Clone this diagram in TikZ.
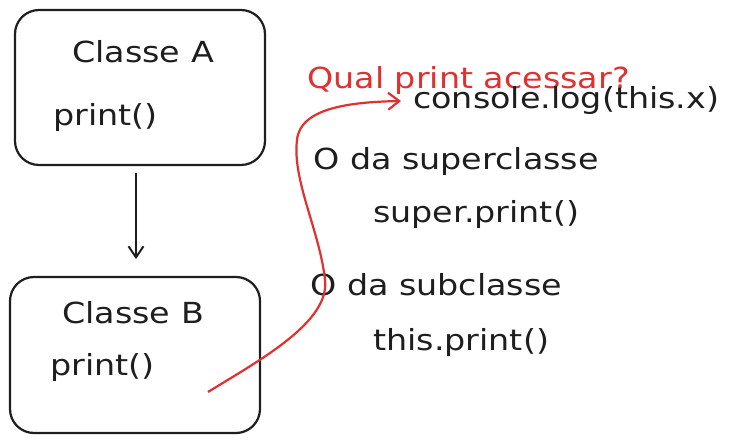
\documentclass[tikz,border=0pt]{standalone}
\usepackage{fontspec}
\setmainfont{DejaVu Sans}[FakeStretch=1.15]
\usetikzlibrary{positioning}
\usetikzlibrary{arrows.meta}

\definecolor{penred}{HTML}{E03131}
\definecolor{ink}{HTML}{1E1E1E}

\tikzset{
  classbox/.style={draw=ink, line width=2.2pt, rounded corners=24pt},
  txt/.style={text=ink, anchor=west, inner sep=0pt, font=\fontsize{29}{34}\selectfont},
  redtxt/.style={txt, text=penred},
  link/.style={draw=ink, line width=2pt, -{Straight Barb[length=11pt,width=15pt]}},
  redlink/.style={draw=penred, line width=2.2pt, -{Straight Barb[length=11pt,width=17pt]}}
}

\begin{document}
\begin{tikzpicture}[x=1pt,y=-1pt]
\useasboundingbox (0,0) rectangle (740,443);

% the two classes
\node[classbox, minimum width=250pt, minimum height=155pt] (A) at (140,87.5) {};
\node[classbox, minimum width=250pt, minimum height=156pt] (B) at (135,355) {};
\node[txt] (Atitle) at (72,52) {Classe A};
\node[txt] (Aprint) at (53,118) {print()};
\node[txt] (Btitle) at (62,313) {Classe B};
\node[txt] (Bprint) at (50,368) {print()};

\draw[link] (A.south) ++(-4,7) coordinate (a1) -- ++(0,86) coordinate (a2);

% the options
\node[redtxt] (q) at (307,81) {Qual print acessar?};
\node[txt] (log) at (413,101) {console.log(this.x)};
\node[txt] (sup) at (313,162) {O da superclasse};
\node[txt] (supcall) at (373,215) {super.print()};
\node[txt] (sub) at (310,285) {O da subclasse};
\node[txt] (subcall) at (373,343) {this.print()};

\coordinate (start) at (208,392);
\coordinate (tip) at ([xshift=-12pt]log.west);
\draw[redlink] (start) .. controls (260,360) and (330,322) .. (325,280)
  .. controls (320,232) and (292,180) .. (297,140)
  .. controls (300,108) and (350,102) .. (tip);
\end{tikzpicture}
\end{document}
